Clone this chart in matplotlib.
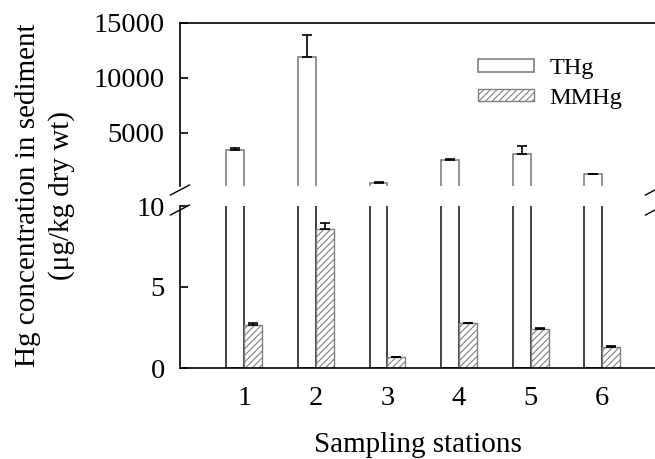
import numpy as np
import matplotlib
matplotlib.use("Agg")
import matplotlib.pyplot as plt

plt.rcParams['font.family'] = ['Liberation Serif', 'DejaVu Serif']
plt.rcParams['hatch.linewidth'] = 0.8

stations = ['1', '2', '3', '4', '5', '6']
thg = [3430, 11880, 425, 2545, 3090, 1245]
thg_err = [180, 2030, 100, 65, 730, 30]
mmhg = [2.65, 8.58, 0.65, 2.78, 2.41, 1.30]
mmhg_err = [0.13, 0.37, 0.03, 0.02, 0.08, 0.03]

W, H = 655, 459
fig = plt.figure(figsize=(W / 100, H / 100), dpi=100)

def px_axes(left, top, right, bottom):
    return fig.add_axes([left / W, 1 - bottom / H, (right - left) / W, (bottom - top) / H])

ax_top = px_axes(180, 23, 655, 186)
ax_bot = px_axes(180, 206, 655, 368)

x = np.arange(1, len(stations) + 1)
w = 0.25
zeros = [0] * len(stations)

# top panel: THg
b_thg = ax_top.bar(x - w / 2, thg, w, color='white', edgecolor='#808080', linewidth=1.2)
ax_top.errorbar(x - w / 2, thg, yerr=[zeros, thg_err], fmt='none', ecolor='black',
                elinewidth=1.2, capsize=3.6, capthick=1.2)
ax_top.bar(x + w / 2, mmhg, w, color='white', edgecolor='#808080', hatch='/////', linewidth=1.0)

# bottom panel: THg (clipped) + MMHg
ax_bot.bar(x - w / 2, thg, w, color='white', edgecolor='#222222', linewidth=1.2)
b_mm = ax_bot.bar(x + w / 2, mmhg, w, color='white', edgecolor='#808080', hatch='/////', linewidth=1.0)
ax_bot.errorbar(x + w / 2, mmhg, yerr=[zeros, mmhg_err], fmt='none', ecolor='black',
                elinewidth=1.2, capsize=3.6, capthick=1.2)

for ax in (ax_top, ax_bot):
    ax.set_xlim(0.102, 6.736)
    ax.spines['right'].set_visible(False)
    ax.spines['left'].set_linewidth(1.2)
    ax.tick_params(axis='y', direction='in', length=6, width=1.2, labelsize=20.5, pad=11)

ax_top.set_ylim(180, 15000)
ax_top.set_yticks([5000, 10000, 15000])
ax_top.spines['bottom'].set_visible(False)
ax_top.spines['top'].set_linewidth(1.2)
ax_top.set_xticks([])

ax_bot.set_ylim(0, 10)
ax_bot.set_yticks([0, 5, 10])
ax_bot.spines['top'].set_visible(False)
ax_bot.spines['bottom'].set_linewidth(1.2)
ax_bot.set_xticks(x)
ax_bot.set_xticklabels(stations)
ax_bot.tick_params(axis='x', length=0, labelsize=20.5, pad=13)
ax_bot.set_xlabel('Sampling stations', fontsize=21, labelpad=15)

fig.text(45 / W, 1 - 195.5 / H, 'Hg concentration in sediment\n(\u03bcg/kg dry wt)',
         rotation=90, ha='center', va='center', multialignment='center',
         fontsize=21, linespacing=1.35)

# axis break marks
for ax, ypos in ((ax_top, 0.0), (ax_bot, 1.0)):
    bb = ax.get_position()
    dx = 9.5 / (bb.width * W)
    dy = 5 / (bb.height * H)
    oy = -4 / (bb.height * H)
    for xpos in (0.0, 1.0):
        ax.plot([xpos - dx, xpos + dx], [ypos + oy - dy, ypos + oy + dy],
                transform=ax.transAxes, color='black', linewidth=1.0, clip_on=False)

leg = ax_top.legend([b_thg, b_mm], ['THg', 'MMHg'], loc='upper left',
                    bbox_to_anchor=(478 / W, 1 - 58 / H), bbox_transform=fig.transFigure,
                    frameon=False, fontsize=17.5, handlelength=2.3, handleheight=0.42,
                    handletextpad=0.65, labelspacing=0.35, borderpad=0, borderaxespad=0)

fig.savefig('out.png', dpi=100)
